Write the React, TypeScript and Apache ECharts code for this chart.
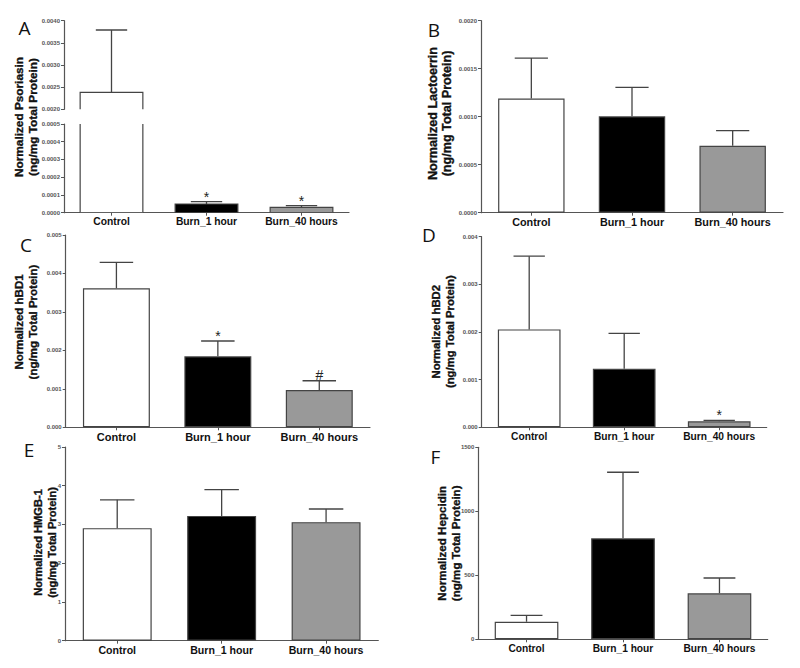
import React, { useEffect, useRef } from 'react';
import * as echarts from 'echarts';

// ---------- data ----------
const categories = ['Control', 'Burn_1 hour', 'Burn_40 hours'];
const barColors = ['#ffffff', '#000000', '#999999'];

const psoriasinMean = [0.00238, 0.000049, 0.0000305];
const psoriasinErr = [0.00141, 0.0000135, 0.0000095];
const psoriasinMarks = ['', '*', '*'];

const lactoferrinMean = [0.00119, 0.001004, 0.000698];
const lactoferrinErr = [0.000421, 0.000302, 0.000156];
const lactoferrinMarks = ['', '', ''];

const hbd1Mean = [0.003614, 0.001846, 0.00097];
const hbd1Err = [0.000676, 0.000398, 0.00024];
const hbd1Marks = ['', '*', '#'];

const hbd2Mean = [0.002055, 0.001229, 0.000126];
const hbd2Err = [0.001536, 0.000741, 0.000021];
const hbd2Marks = ['', '', '*'];

const hmgbMean = [2.905, 3.222, 3.06];
const hmgbErr = [0.731, 0.678, 0.34];
const hmgbMarks = ['', '', ''];

const hepcidinMean = [137.5, 789, 359];
const hepcidinErr = [50, 516, 120];
const hepcidinMarks = ['', '', ''];

// axis ranges [min, max, interval, decimals]
const psoriasinUpperAxis = [0.002, 0.004, 0.0005, 4];
const psoriasinLowerAxis = [0, 0.0005, 0.0001, 4];
const lactoferrinAxis = [0, 0.002, 0.0005, 4];
const hbd1Axis = [0, 0.005, 0.001, 3];
const hbd2Axis = [0, 0.004, 0.001, 3];
const hmgbAxis = [0, 5, 1, 0];
const hepcidinAxis = [0, 1500, 500, 0];

const panelLetters = ['A', 'B', 'C', 'D', 'E', 'F'];
const yTitles = [
  'Normalized Psoriasin\n(ng/mg Total Protein)',
  'Normalized Lactoerrin\n(ng/mg Total Protein)',
  'Normalized hBD1\n(ng/mg Total Protein)',
  'Normalized hBD2\n(ng/mg Total Protein)',
  'Normalized HMGB-1\n(ng/mg Total Protein)',
  'Normalized Hepcidin\n(ng/mg Total Protein)',
];

// ---------- layout ----------
const FONT = '"Liberation Sans", Arial, sans-serif';
const panels = [
  { grid: { left: 64, top: 20.7, width: 285, height: 88.6 }, axis: psoriasinUpperAxis, means: psoriasinMean, errs: psoriasinErr, marks: ['', '', ''], showX: false, catFont: 10.3, broken: true },
  { grid: { left: 64, top: 124, width: 285, height: 88.7 }, axis: psoriasinLowerAxis, means: psoriasinMean, errs: psoriasinErr, marks: psoriasinMarks, showX: true, catFont: 10.3, broken: true },
  { grid: { left: 481, top: 20.7, width: 302, height: 192 }, axis: lactoferrinAxis, means: lactoferrinMean, errs: lactoferrinErr, marks: lactoferrinMarks, showX: true, catFont: 10.8, broken: false },
  { grid: { left: 65.7, top: 235, width: 304.3, height: 192.3 }, axis: hbd1Axis, means: hbd1Mean, errs: hbd1Err, marks: hbd1Marks, showX: true, catFont: 11, broken: false },
  { grid: { left: 481.7, top: 236.7, width: 285, height: 190.6 }, axis: hbd2Axis, means: hbd2Mean, errs: hbd2Err, marks: hbd2Marks, showX: true, catFont: 10.2, broken: false },
  { grid: { left: 65, top: 447, width: 313.3, height: 193.7 }, axis: hmgbAxis, means: hmgbMean, errs: hmgbErr, marks: hmgbMarks, showX: true, catFont: 10.6, broken: false },
  { grid: { left: 478.3, top: 447.3, width: 289.4, height: 192 }, axis: hepcidinAxis, means: hepcidinMean, errs: hepcidinErr, marks: hepcidinMarks, showX: true, catFont: 10.2, broken: false },
];

const letterPos = [
  [24.5, 27.5], [434, 29.5], [26, 245], [429, 235], [29, 450], [435.5, 456.7],
];
const titlePos = [
  [26, 117, 11.8], [439.5, 113.5, 12.6], [26, 322, 11.5], [442.8, 331.7, 11.3], [44.6, 542.5, 11.1], [448.7, 543.3, 11.6],
];
const TITLE_LINE_GAP = 14;

const AXIS_COLOR = '#555';
const ERR_COLOR = '#444';
const BAR_FRACTION = 0.66;

function buildOption() {
  const grid: any[] = [];
  const xAxis: any[] = [];
  const yAxis: any[] = [];
  const series: any[] = [];

  panels.forEach((p, i) => {
    const [min, max, interval, decimals] = p.axis as number[];
    grid.push({ ...p.grid, containLabel: false });
    xAxis.push({
      type: 'category',
      gridIndex: i,
      data: categories,
      show: p.showX,
      axisLine: { lineStyle: { color: AXIS_COLOR, width: 1.2 } },
      axisTick: { show: true, alignWithLabel: true, length: 3, lineStyle: { color: AXIS_COLOR } },
      axisLabel: { fontFamily: FONT, fontWeight: 'bold', fontSize: p.catFont, color: '#111', margin: 4 },
    });
    yAxis.push({
      type: 'value',
      gridIndex: i,
      min,
      max,
      interval,
      splitLine: { show: false },
      axisLine: { show: true, lineStyle: { color: AXIS_COLOR, width: 1.2 } },
      axisTick: { show: true, length: 3, lineStyle: { color: AXIS_COLOR } },
      axisLabel: {
        fontFamily: FONT,
        fontSize: 6,
        fontWeight: 'bold',
        color: '#555',
        margin: 4,
        formatter: (v: number) => v.toFixed(decimals),
      },
    });
    if (p.broken) {
      // bars of the broken axis: drawn through the axis scales and clipped to each segment
      series.push({
        type: 'custom',
        xAxisIndex: i,
        yAxisIndex: i,
        clip: true,
        data: p.means.map((v, k) => [k, v]),
        renderItem: (params: any, api: any) => {
          const k = api.value(0);
          const v = api.value(1);
          const topPt = api.coord([k, v]);
          const basePt = api.coord([k, 0]);
          const w = api.size([1, 0])[0] * BAR_FRACTION;
          return {
            type: 'rect',
            shape: { x: topPt[0] - w / 2, y: topPt[1], width: w, height: basePt[1] - topPt[1] },
            style: { fill: barColors[k], stroke: '#444', lineWidth: 1.2 },
          };
        },
      });
    } else {
      series.push({
        type: 'bar',
        xAxisIndex: i,
        yAxisIndex: i,
        barWidth: `${BAR_FRACTION * 100}%`,
        data: p.means.map((v, k) => ({ value: v, itemStyle: { color: barColors[k] } })),
        itemStyle: { borderColor: '#444', borderWidth: 1.2 },
        emphasis: { disabled: true },
      });
    }
    series.push({
      type: 'custom',
      xAxisIndex: i,
      yAxisIndex: i,
      clip: true,
      data: p.means.map((v, k) => [k, v, p.errs[k]]),
      renderItem: (params: any, api: any) => {
        const k = api.value(0);
        const m = api.value(1);
        const e = api.value(2);
        const base = api.coord([k, m]);
        const top = api.coord([k, m + e]);
        const half = api.size([1, 0])[0] * BAR_FRACTION * 0.25;
        const style = { stroke: ERR_COLOR, lineWidth: 1.3 };
        const children: any[] = [
          { type: 'line', shape: { x1: base[0], y1: base[1], x2: top[0], y2: top[1] }, style },
          { type: 'line', shape: { x1: top[0] - half, y1: top[1], x2: top[0] + half, y2: top[1] }, style },
        ];
        const mark = p.marks[k];
        if (mark) {
          children.push({
            type: 'text',
            x: top[0],
            y: top[1] - (mark === '#' ? 6 : 5),
            style: {
              text: mark,
              fill: '#222',
              fontSize: 14,
              fontFamily: FONT,
              textAlign: 'center',
              textVerticalAlign: 'middle',
            },
          });
        }
        return { type: 'group', children };
      },
    });
  });

  const graphic: any[] = [];
  panelLetters.forEach((l, i) => {
    graphic.push({
      type: 'text',
      x: letterPos[i][0],
      y: letterPos[i][1],
      style: {
        text: l,
        fill: '#111',
        fontSize: 19,
        fontFamily: '"Open Sans", sans-serif',
        textAlign: 'center',
        textVerticalAlign: 'middle',
      },
    });
  });
  yTitles.forEach((t, i) => {
    const lines = t.split('\n');
    lines.forEach((line, j) => {
      const off = (j - (lines.length - 1) / 2) * TITLE_LINE_GAP;
      graphic.push({
        type: 'text',
        x: titlePos[i][0] + off,
        y: titlePos[i][1],
        rotation: Math.PI / 2,
        style: {
          text: line,
          fill: '#111',
          stroke: '#111',
          lineWidth: 0.35,
          fontSize: titlePos[i][2],
          fontWeight: 'bold',
          fontFamily: FONT,
          textAlign: 'center',
          textVerticalAlign: 'middle',
        },
      });
    });
  });

  return {
    animation: false,
    backgroundColor: '#ffffff',
    grid,
    xAxis,
    yAxis,
    series,
    graphic,
  };
}

export default function App() {
  const ref = useRef<HTMLDivElement>(null);
  useEffect(() => {
    document.body.style.margin = '0';
    if (!ref.current) return;
    const chart = echarts.init(ref.current, null, { renderer: 'svg' });
    chart.setOption(buildOption() as any);
    return () => chart.dispose();
  }, []);
  return <div ref={ref} style={{ width: 800, height: 668 }} />;
}
